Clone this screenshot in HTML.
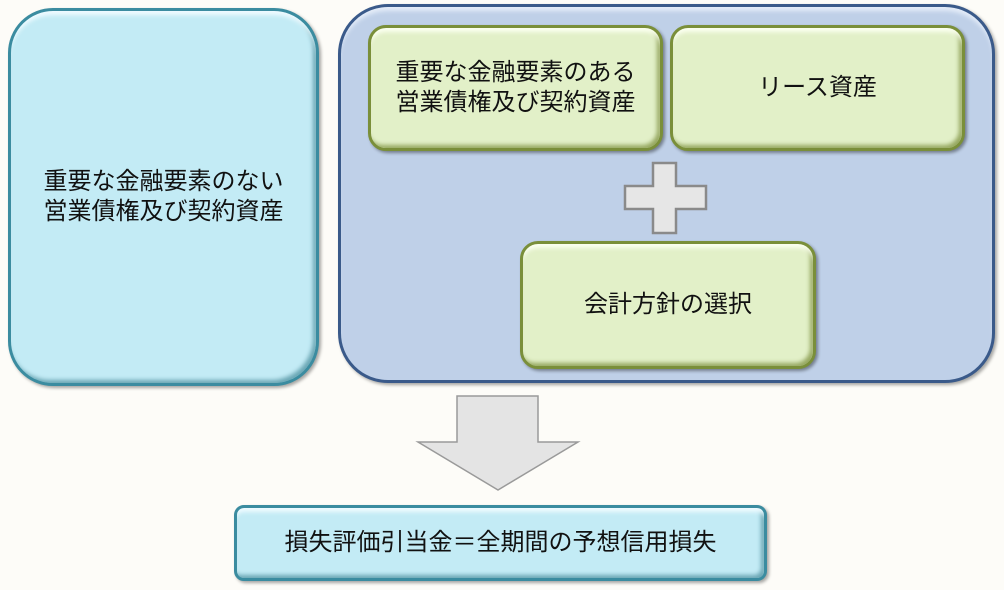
<!DOCTYPE html>
<html><head><meta charset="utf-8"><style>
body{margin:0;width:1004px;height:590px;background:#fdfcf8;position:relative;overflow:hidden;font-family:"Liberation Sans","Noto Sans CJK JP",sans-serif;color:#111}
.b{position:absolute;box-sizing:border-box;display:flex;align-items:center;justify-content:center;text-align:center;font-size:24px;line-height:30px}
.cy{background:#c3ebf5;border:3px solid #3b8ca0;box-shadow:inset 0 6px 4px -2px #effbff,inset -3px -3px 4px #6aa6b4,2px 2px 3px rgba(0,0,0,.35)}
.gr{background:#e2f0c8;border:3px solid #7a8f3a;border-radius:18px;box-shadow:inset 0 6px 4px -2px #fbfff0,inset -3px -3px 4px #96a860,2px 2px 3px rgba(0,0,0,.4)}
</style></head><body>
<div class="b cy" style="left:8px;top:8px;width:311px;height:378px;border-radius:45px">重要な金融要素のない<br>営業債権及び契約資産</div>
<div class="b" style="left:338px;top:4px;width:657px;height:379px;border-radius:50px;background:#bfd0e8;border:3px solid #3a5a8a;box-shadow:inset 0 6px 4px -2px #e4ecf8,2px 2px 3px rgba(0,0,0,.35)"></div>
<div class="b gr" style="left:368px;top:25px;width:295px;height:126px">重要な金融要素のある<br>営業債権及び契約資産</div>
<div class="b gr" style="left:670px;top:25px;width:295px;height:126px">リース資産</div>
<div class="b gr" style="left:520px;top:241px;width:296px;height:128px">会計方針の選択</div>
<svg style="position:absolute;left:0;top:0" width="1004" height="590">
<polygon points="653,163 676,163 676,186 706,186 706,209 676,209 676,233 653,233 653,209 625,209 625,186 653,186" fill="#e6e6e6" stroke="#8a8a8a" stroke-width="2.5"/>
<polygon points="457,396 538,396 538,442 578,442 498,490 418,442 457,442" fill="#e4e4e4" stroke="#9a9a9a" stroke-width="1.5"/>
</svg>
<div class="b cy" style="left:234px;top:505px;width:533px;height:76px;border-radius:10px">損失評価引当金＝全期間の予想信用損失</div>
</body></html>
